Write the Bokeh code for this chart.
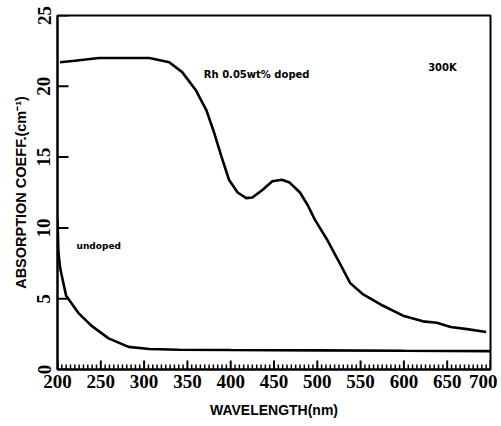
from bokeh.plotting import figure
from bokeh.models import Label, FixedTicker, Range1d
from bokeh.embed import file_html
from bokeh.resources import INLINE

# Rh 0.05wt% doped curve (wavelength nm, absorption coeff cm^-1)
doped_nm = [203, 220, 248, 280, 306, 329, 344, 360, 372, 381, 389, 398, 408, 418,
            425, 437, 448, 459, 468, 480, 489, 497, 511, 526, 538, 553, 576, 599,
            622, 638, 654, 673, 695]
doped_val = [21.7, 21.8, 22.0, 22.0, 22.0, 21.7, 21.0, 19.7, 18.3, 16.7, 15.1, 13.4,
             12.5, 12.1, 12.15, 12.7, 13.3, 13.4, 13.2, 12.5, 11.6, 10.6, 9.2, 7.5,
             6.1, 5.3, 4.5, 3.8, 3.4, 3.3, 3.0, 2.85, 2.65]

# undoped curve
undoped_nm = [200, 201, 203, 205, 210, 217, 224, 239, 259, 282, 306, 340, 400, 500, 600, 700]
undoped_val = [10.6, 8.3, 7.2, 6.6, 5.2, 4.6, 4.0, 3.1, 2.2, 1.6, 1.45, 1.4, 1.38, 1.35, 1.32, 1.3]

x_ticks = [200, 250, 300, 350, 400, 450, 500, 550, 600, 650, 700]
x_minor = [m for m in range(200, 701, 5) if m % 50 != 0]
y_ticks = [0, 5, 10, 15, 20, 25]

FONT_T = "Liberation Sans Narrow"
FONT = "Liberation Sans"
FONT_A = "DejaVu Sans"

X0, X1, Y0, Y1 = 200, 700, 0, 25
W, H = 497, 420
BL, BR, BT, BB = 57, 7, 15, 47

p = figure(width=W, height=H, output_backend="svg", toolbar_location=None,
           x_range=Range1d(X0, X1), y_range=Range1d(Y0, Y1),
           min_border_left=BL, min_border_right=BR, min_border_top=BT, min_border_bottom=BB)

p.grid.visible = False
p.outline_line_color = "black"
p.outline_line_width = 2
p.background_fill_color = "white"
p.border_fill_color = "white"

# inward tick marks (lengths in px converted to data units)
ypx = (Y1 - Y0) / (H - BT - BB)
xpx = (X1 - X0) / (W - BL - BR)
p.segment(x0=x_minor, y0=[Y0] * len(x_minor), x1=x_minor, y1=[Y0 + 5 * ypx] * len(x_minor),
          line_color="black", line_width=1.5)
p.segment(x0=x_ticks, y0=[Y0] * len(x_ticks), x1=x_ticks, y1=[Y0 + 9 * ypx] * len(x_ticks),
          line_color="black", line_width=2)
p.segment(x0=[X0] * len(y_ticks), y0=y_ticks, x1=[X0 + 11 * xpx] * len(y_ticks), y1=y_ticks,
          line_color="black", line_width=2)

p.line(doped_nm, doped_val, line_color="black", line_width=2.6)
p.line(undoped_nm, undoped_val, line_color="black", line_width=2.6)

xa = p.xaxis[0]
xa.ticker = FixedTicker(ticks=x_ticks, minor_ticks=[])
xa.axis_line_width = 2
xa.major_tick_in = 0
xa.major_tick_out = 0
xa.minor_tick_in = 0
xa.minor_tick_out = 0
xa.major_label_text_font = FONT_T
xa.major_label_text_font_size = "19px"
xa.major_label_text_font_style = "bold"
xa.major_label_text_color = "black"
xa.major_label_standoff = 5
xa.axis_label = "WAVELENGTH(nm)"
xa.axis_label_text_font = FONT
xa.axis_label_text_font_size = "14px"
xa.axis_label_text_font_style = "bold"
xa.axis_label_text_color = "black"
xa.axis_label_standoff = 11

ya = p.yaxis[0]
ya.ticker = FixedTicker(ticks=y_ticks, minor_ticks=[])
ya.axis_line_width = 2
ya.major_tick_in = 0
ya.major_tick_out = 0
ya.minor_tick_in = 0
ya.minor_tick_out = 0
ya.major_label_orientation = "vertical"
ya.major_label_text_font = FONT_T
ya.major_label_text_font_size = "19px"
ya.major_label_text_font_style = "bold"
ya.major_label_text_color = "black"
ya.major_label_standoff = 7
ya.axis_label = "ABSORPTION COEFF.(cm\u207b\u00b9)"
ya.axis_label_text_font = FONT
ya.axis_label_text_font_size = "14.5px"
ya.axis_label_text_font_style = "bold"
ya.axis_label_text_color = "black"
ya.axis_label_standoff = 6

for txt, x, y, fs in [("Rh 0.05wt% doped", 369, 20.8, "10px"), ("300K", 628, 21.3, "10px"),
                      ("undoped", 222, 8.75, "9px")]:
    p.add_layout(Label(x=x, y=y, text=txt, text_font=FONT_A, text_font_size=fs,
                       text_font_style="bold", text_baseline="middle", text_align="left",
                       text_color="black"))

open("out.html", "w").write(file_html(p, INLINE))
